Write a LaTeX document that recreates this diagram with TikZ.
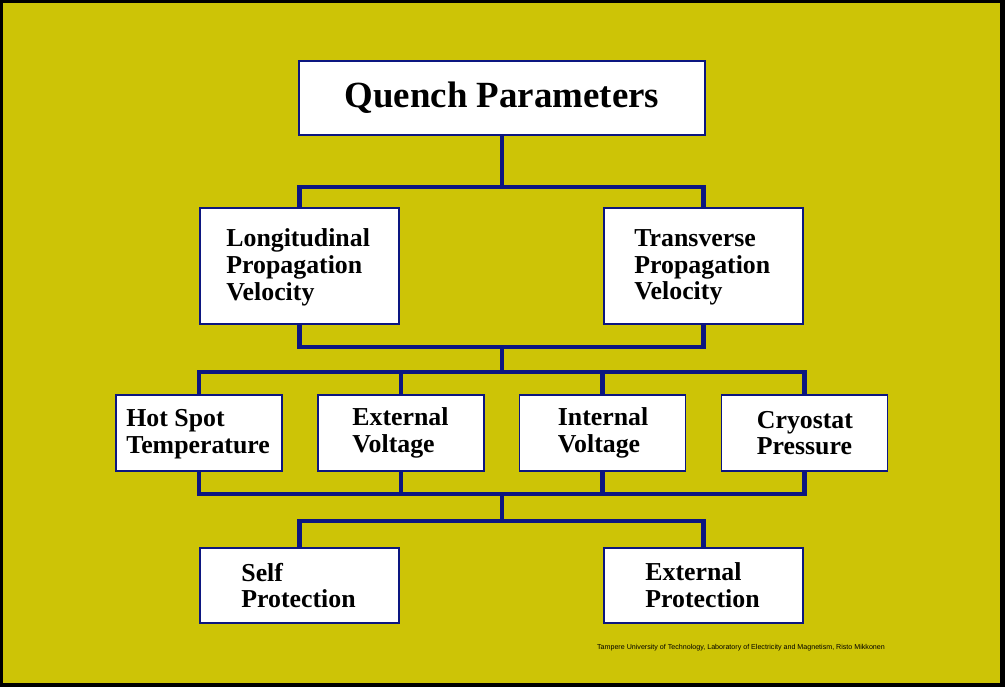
\documentclass[tikz,border=0pt]{standalone}
\usepackage{fontspec}
\setmainfont{Liberation Serif}
\newfontfamily\footfont{Liberation Sans}
\usepackage{tikz}
\usetikzlibrary{positioning,calc}
\definecolor{slideYellow}{RGB}{205,196,6}
\definecolor{lineNavy}{RGB}{12,22,128}
\tikzset{
    paramBox/.style={
        draw=lineNavy,
        fill=white,
        line width=1.1pt,
        inner sep=0pt
    },
    topBox/.style={paramBox, minimum width=8.12cm, minimum height=1.48cm,
        font=\fontsize{21}{23}\selectfont\bfseries},
    midBox/.style={paramBox, minimum width=3.98cm, minimum height=2.32cm},
    smallBox/.style={paramBox, minimum width=3.32cm, minimum height=1.52cm},
    lowBox/.style={paramBox, minimum width=3.98cm, minimum height=1.5cm},
    boxLabel/.style={
        anchor=west,
        inner sep=0pt,
        align=left,
        font=\fontsize{14.7}{15.2}\selectfont\bfseries
    },
}

\begin{document}
\begin{tikzpicture}[x=0.02cm, y=-0.02cm,
    link/.style={draw=lineNavy, line width=2.8pt}
]
    % Frame and background
    \useasboundingbox (0,0) rectangle (1005,687);
    \fill[black] (0,0) rectangle (1005,687);
    \fill[slideYellow] (3,3) rectangle (1000,683);

    % Top parameter
    \node[topBox] (quench) at (502,98) {Quench Parameters};

    % Propagation velocities
    \node[midBox] (longVel) at (299.5,266) {};
    \node[boxLabel] (longVelText) at ([xshift=0.54cm,yshift=-0.03cm]longVel.west) {Longitudinal\\Propagation\\Velocity};
    \node[midBox] (transVel) at (703.5,266) {};
    \node[boxLabel] (transVelText) at ([xshift=0.62cm,yshift=-0.03cm]transVel.west) {Transverse\\Propagation\\Velocity};

    % Measured quantities
    \node[smallBox] (hotSpot) at (199,433) {};
    \node[boxLabel] (hotSpotText) at ([xshift=0.22cm,yshift=-0.03cm]hotSpot.west) {Hot Spot\\Temperature};
    \node[smallBox] (extVolt) at (401,433) {};
    \node[boxLabel] (extVoltText) at ([xshift=0.70cm]extVolt.west) {External\\Voltage};
    \node[smallBox] (intVolt) at (602.5,433) {};
    \node[boxLabel] (intVoltText) at ([xshift=0.78cm]intVolt.west) {Internal\\Voltage};
    \node[smallBox] (cryoPress) at (804.5,433) {};
    \node[boxLabel] (cryoPressText) at ([xshift=0.72cm]cryoPress.west) {Cryostat\\Pressure};

    % Protection schemes
    \node[lowBox] (selfProt) at (299.5,585.5) {};
    \node[boxLabel] (selfProtText) at ([xshift=0.84cm]selfProt.west) {Self\\Protection};
    \node[lowBox] (extProt) at (703.5,585.5) {};
    \node[boxLabel] (extProtText) at ([xshift=0.84cm]extProt.west) {External\\Protection};

    % Junction points
    \coordinate (joinA) at (502,187);
    \coordinate (joinB) at (502,347);
    \coordinate (joinC) at (502,372);
    \coordinate (joinD) at (502,494);
    \coordinate (joinE) at (502,521);

    % Connectors
    \draw[link] (quench.south) -- (joinA);
    \draw[link] (longVel.north) |- (joinA) -| (transVel.north);
    \draw[link] (longVel.south) |- (joinB) -| (transVel.south);
    \draw[link] (joinB) -- (joinC);
    \draw[link] (hotSpot.north) |- (joinC) -| (cryoPress.north);
    \draw[link] (extVolt.north) -- (extVolt.north |- joinC);
    \draw[link] (intVolt.north) -- (intVolt.north |- joinC);
    \draw[link] (hotSpot.south) |- (joinD) -| (cryoPress.south);
    \draw[link] (extVolt.south) -- (extVolt.south |- joinD);
    \draw[link] (intVolt.south) -- (intVolt.south |- joinD);
    \draw[link] (joinD) -- (joinE);
    \draw[link] (selfProt.north) |- (joinE) -| (extProt.north);

    % Source line
    \node[font=\footfont\fontsize{4.05}{4.5}\selectfont, text=black, inner sep=0pt] (source) at (741,648)
        {Tampere University of Technology, Laboratory of Electricity and Magnetism, Risto Mikkonen};
\end{tikzpicture}
\end{document}
